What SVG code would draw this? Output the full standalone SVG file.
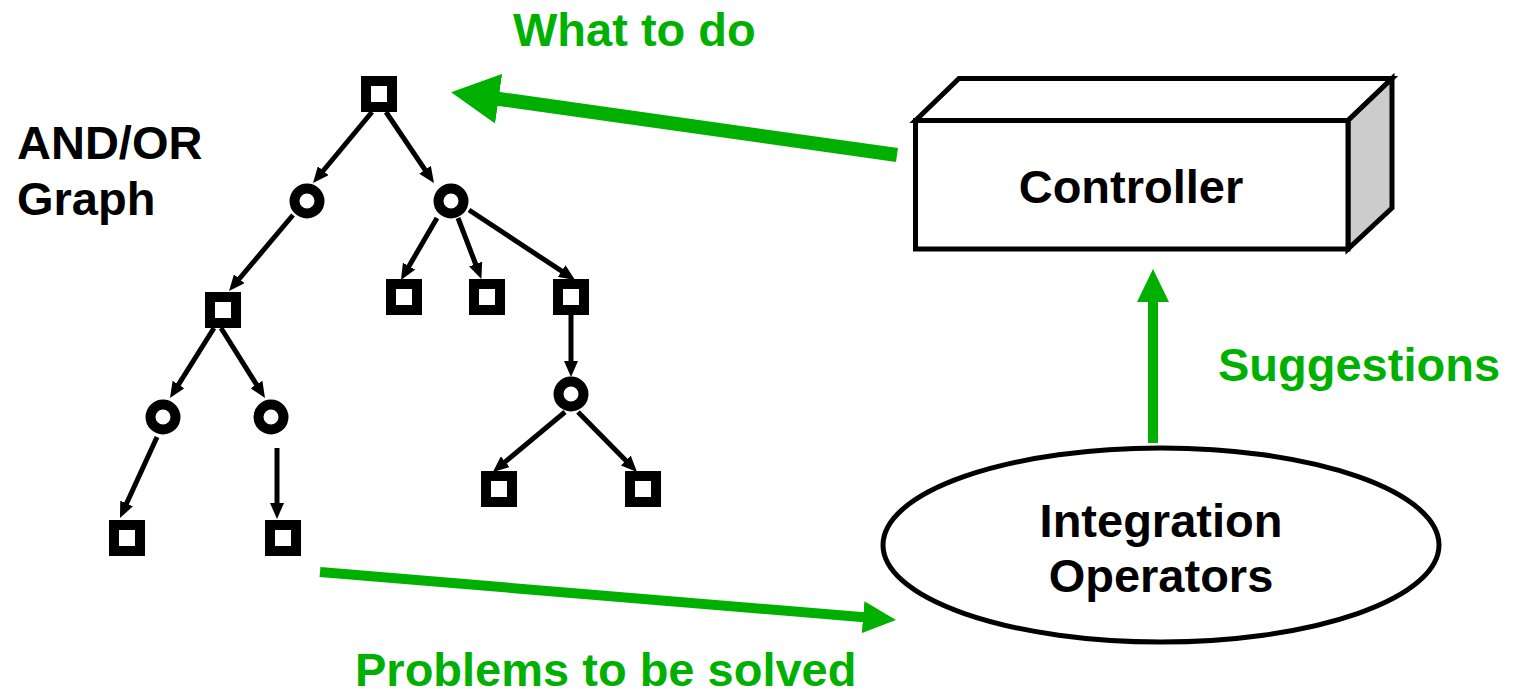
<svg xmlns="http://www.w3.org/2000/svg" width="1514" height="693" viewBox="0 0 1514 693">
  <style>
    .lbl { font-family: "Liberation Sans", Arial, sans-serif; font-weight: bold; font-size: 47px; }
    .green { fill: #00b000; }
    .black { fill: #000; }
    .sq { fill: #fff; stroke: #000; stroke-width: 10; }
    .ci { fill: #fff; stroke: #000; stroke-width: 10; }
    .edge { stroke: #000; stroke-width: 5; fill: none; marker-end: url(#blk); }
    .flow { stroke: #00b000; fill: none; }
    .box { stroke: #000; stroke-width: 5; stroke-linejoin: miter; }
  </style>
  <defs>
    <marker id="blk" markerUnits="userSpaceOnUse" viewBox="0 -7 16 14" refX="1" refY="0" markerWidth="16" markerHeight="14" orient="auto">
      <path d="M0,-7 L16,0 L0,7 z" fill="#000"/>
    </marker>
    <marker id="gBig" markerUnits="userSpaceOnUse" viewBox="0 -25 48 50" refX="1" refY="0" markerWidth="48" markerHeight="50" orient="auto">
      <path d="M0,-25 L48,0 L0,25 z" fill="#00b000"/>
    </marker>
    <marker id="gMed" markerUnits="userSpaceOnUse" viewBox="0 -16 33 32" refX="1" refY="0" markerWidth="33" markerHeight="32" orient="auto">
      <path d="M0,-16 L33,0 L0,16 z" fill="#00b000"/>
    </marker>
  </defs>

  <!-- labels -->
  <text class="lbl green" x="513" y="46">What to do</text>
  <text class="lbl black" x="17" y="159">AND/OR</text>
  <text class="lbl black" x="17" y="215">Graph</text>
  <text class="lbl green" x="1218" y="381">Suggestions</text>
  <text class="lbl green" x="355" y="686">Problems to be solved</text>

  <!-- controller block -->
  <g id="controller">
    <polygon class="box" points="915.5,120.5 959,78.5 1392,78.5 1348,120.5" fill="#fff"/>
    <polygon class="box" points="1348,120.5 1392,78.5 1392,208 1348,249" fill="#cccccc"/>
    <rect class="box" x="915.5" y="120.5" width="432.5" height="128.5" fill="#fff"/>
    <text class="lbl black" x="1131" y="203" text-anchor="middle">Controller</text>
  </g>

  <!-- integration operators -->
  <g id="integration">
    <ellipse cx="1161" cy="545" rx="278" ry="97" fill="#fff" stroke="#000" stroke-width="5"/>
    <text class="lbl black" x="1161" y="537" text-anchor="middle">Integration</text>
    <text class="lbl black" x="1161" y="592" text-anchor="middle">Operators</text>
  </g>

  <!-- AND/OR graph nodes -->
  <g id="n-root"><rect class="sq" x="366" y="81" width="26" height="26"/></g>
  <g id="n-a"><circle class="ci" cx="307" cy="201" r="12.5"/></g>
  <g id="n-b"><circle class="ci" cx="451" cy="201" r="12.5"/></g>
  <g id="n-c"><rect class="sq" x="210" y="297" width="26" height="26"/></g>
  <g id="n-b1"><rect class="sq" x="391" y="284" width="26" height="26"/></g>
  <g id="n-b2"><rect class="sq" x="474" y="284" width="26" height="26"/></g>
  <g id="n-b3"><rect class="sq" x="558" y="284" width="26" height="26"/></g>
  <g id="n-c1"><circle class="ci" cx="163" cy="417" r="12.5"/></g>
  <g id="n-c2"><circle class="ci" cx="271" cy="417" r="12.5"/></g>
  <g id="n-c1a"><rect class="sq" x="114" y="525" width="26" height="26"/></g>
  <g id="n-c2a"><rect class="sq" x="270" y="525" width="26" height="26"/></g>
  <g id="n-d"><circle class="ci" cx="571" cy="394" r="12.5"/></g>
  <g id="n-d1"><rect class="sq" x="486" y="476" width="26" height="26"/></g>
  <g id="n-d2"><rect class="sq" x="630" y="476" width="26" height="26"/></g>

  <!-- connectors -->
  <g id="connectors">
    <line class="edge" x1="372" y1="112" x2="322.6" y2="171.5"/>
    <line class="edge" x1="386" y1="112" x2="425.6" y2="170.6"/>
    <line class="edge" x1="293" y1="215" x2="238.7" y2="279.5"/>
    <line class="edge" x1="437" y1="218" x2="408.5" y2="267"/>
    <line class="edge" x1="458" y1="218" x2="476" y2="265"/>
    <line class="edge" x1="469" y1="210" x2="562.5" y2="271.7"/>
    <line class="edge" x1="214" y1="328" x2="178" y2="385.3"/>
    <line class="edge" x1="221" y1="328" x2="257" y2="385.3"/>
    <line class="edge" x1="157" y1="437" x2="126.2" y2="504.3"/>
    <line class="edge" x1="277" y1="448" x2="277" y2="504"/>
    <line class="edge" x1="571" y1="315" x2="571" y2="362"/>
    <line class="edge" x1="565" y1="412" x2="504.5" y2="462.4"/>
    <line class="edge" x1="578" y1="412" x2="626.5" y2="461.3"/>

    <line class="flow" stroke-width="14" x1="897" y1="155" x2="497.6" y2="98.7" marker-end="url(#gBig)"/>
    <line class="flow" stroke-width="10" x1="320" y1="572" x2="864.1" y2="617.3" marker-end="url(#gMed)"/>
    <line class="flow" stroke-width="10" x1="1153" y1="443" x2="1153" y2="301" marker-end="url(#gMed)"/>
  </g>
</svg>
